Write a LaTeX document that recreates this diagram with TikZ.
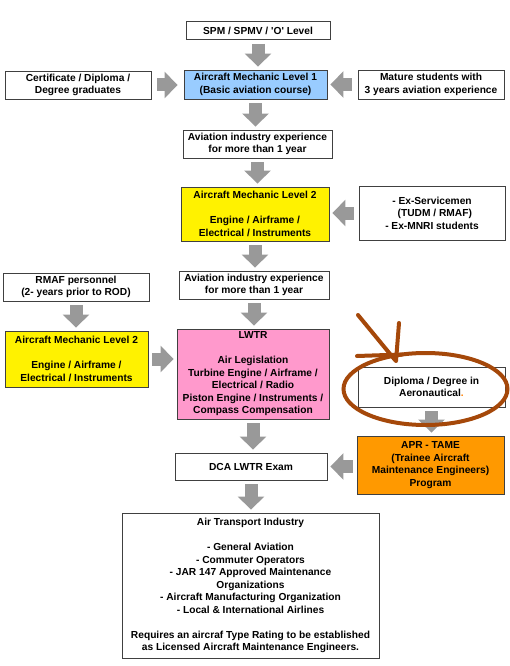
\documentclass[tikz,border=0pt]{standalone}
\usepackage{fontspec}
\setmainfont{Liberation Sans}
\usetikzlibrary{arrows.meta}

\definecolor{blockgray}{RGB}{153,153,153}
\definecolor{skyfill}{RGB}{153,204,255}
\definecolor{pinkfill}{RGB}{255,153,204}
\definecolor{orangefill}{RGB}{255,153,0}
\definecolor{penbrown}{RGB}{165,72,10}

\begin{document}
\begin{tikzpicture}[x=1pt,y=-1pt,
    box/.style={draw=black!75,line width=0.9pt,fill=white,align=center,inner sep=0pt,
      font=\fontsize{10.2}{12.5}\selectfont\bfseries},
    fatarrow/.style={draw=blockgray,line width=13pt,shorten <=4pt,shorten >=3pt,
      -{Triangle[length=13pt,width=26pt]}},
    pen/.style={penbrown,line width=4pt,line cap=round}]

    \useasboundingbox (0,0) rectangle (509,666);

    % top row
    \node[box,minimum width=144pt,minimum height=18pt] (spm) at (258,30.5) {SPM / SPMV / \textquotesingle O\textquotesingle{} Level};
    \node[box,minimum width=146pt,minimum height=28pt] (cert) at (78,85) {Certificate / Diploma /\\Degree graduates};
    \node[box,fill=skyfill,minimum width=143pt,minimum height=29pt] (aml1) at (255.5,84.5) {Aircraft Mechanic Level 1\\(Basic aviation course)};
    \node[box,minimum width=146pt,minimum height=29pt] (mature) at (431,84.5) {Mature students with\\3 years aviation experience};
    \node[box,minimum width=149pt,minimum height=28pt] (expa) at (257.5,144) {Aviation industry experience\\for more than 1 year};

    % level 2
    \node[box,fill=yellow,minimum width=148pt,minimum height=54pt] (amlb) at (255,214) {Aircraft Mechanic Level 2\\[12.5pt]Engine / Airframe /\\Electrical / Instruments};
    \node[box,minimum width=146pt,minimum height=54pt] (exsv) at (432,213) {- Ex-Servicemen\\\ \ (TUDM / RMAF)\\- Ex-MNRI students};
    \node[box,minimum width=150pt,minimum height=28pt] (expb) at (254,285) {Aviation industry experience\\for more than 1 year};
    \node[box,minimum width=146pt,minimum height=28pt] (rmaf) at (76,287) {RMAF personnel\\(2- years prior to ROD)};
    \node[box,fill=yellow,minimum width=143pt,minimum height=56pt] (amlc) at (76.5,359) {Aircraft Mechanic Level 2\\[12.5pt]Engine / Airframe /\\Electrical / Instruments};

    % licence part
    \node[box,fill=pinkfill,minimum width=152pt,minimum height=90pt] (lwtr) at (253,374) {LWTR\\[12.5pt]Air Legislation\\Turbine Engine / Airframe /\\Electrical / Radio\\Piston Engine / Instruments /\\Compass Compensation};
    \node[box,minimum width=147pt,minimum height=40pt] (dipl) at (431.5,387) {Diploma / Degree in\\Aeronautical{\color{orange}.}};
    \node[box,fill=orangefill,minimum width=147pt,minimum height=58pt] (apr) at (430.5,465) {APR - TAME\\(Trainee Aircraft\\Maintenance Engineers)\\Program};
    \node[box,minimum width=152pt,minimum height=27pt] (dca) at (251,466.5) {DCA LWTR Exam};
    \node[box,minimum width=257pt,minimum height=145pt] (ati) at (250.5,585.5) {Air Transport Industry\\[12.5pt]- General Aviation\\- Commuter Operators\\- JAR 147 Approved Maintenance\\Organizations\\- Aircraft Manufacturing Organization\\- Local \& International Airlines\\[12.5pt]Requires an aircraf Type Rating to be established\\as Licensed Aircraft Maintenance Engineers.};

    % down arrows
    \foreach \a/\b in {spm/aml1,aml1/expa,expa/amlb,amlb/expb,expb/lwtr,lwtr/dca,dca/ati,rmaf/amlc,dipl/apr}
      \draw[fatarrow] (\a.south) -- (\a.south |- \b.north);

    % side arrows
    \draw[fatarrow,shorten <=6pt,shorten >=6pt] (cert.east) -- (cert.east -| aml1.west);
    \draw[fatarrow,shorten <=6pt] (mature.west) -- (mature.west -| aml1.east);
    \draw[fatarrow,shorten <=5pt] (exsv.west) -- (exsv.west -| amlb.east);
    \draw[fatarrow] (amlc.east) -- (amlc.east -| lwtr.west);
    \draw[fatarrow] (apr.west |- dca.east) -- (dca.east);

    % hand drawn marks
    \draw[pen] (425.5,389) ellipse [x radius=82,y radius=36];
    \draw[pen] (357,356) -- (402,354.5);
    \draw[pen] (358,315) -- (395,360);
    \draw[pen] (399,323) -- (396,361);

\end{tikzpicture}
\end{document}
